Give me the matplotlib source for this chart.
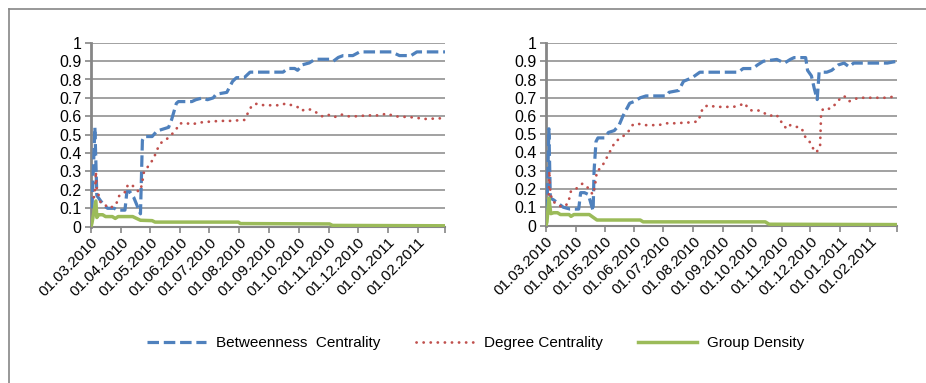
import matplotlib
matplotlib.use("Agg")
import matplotlib.pyplot as plt
from matplotlib.lines import Line2D
import pandas as pd

plt.rcParams["font.family"] = ["Liberation Sans", "DejaVu Sans"]

# day offsets from 01.03.2010 and values
# left panel
left_btw_day = [1, 4, 6, 10, 13, 17, 24, 27, 35, 37, 40, 44, 51, 53, 55, 63, 68, 74, 80, 83,
                88, 90, 104, 108, 115, 120, 126, 129, 140, 146, 150, 158, 164, 198, 203, 210,
                213, 218, 225, 231, 240, 246, 250, 255, 260, 270, 277, 302, 310, 314, 318,
                330, 336, 365]
left_btw = [0.10, 0.54, 0.17, 0.14, 0.12, 0.10, 0.10, 0.09, 0.09, 0.19, 0.19, 0.16, 0.07, 0.47,
            0.49, 0.49, 0.52, 0.53, 0.54, 0.58, 0.67, 0.68, 0.68, 0.69, 0.70, 0.69, 0.70, 0.72,
            0.73, 0.79, 0.81, 0.81, 0.84, 0.84, 0.86, 0.86, 0.85, 0.88, 0.89, 0.91, 0.91, 0.91,
            0.90, 0.92, 0.93, 0.93, 0.95, 0.95, 0.95, 0.94, 0.93, 0.93, 0.95, 0.95]

left_deg_day = [3, 4.5, 5, 6, 8, 10, 14, 19, 26, 28, 31, 36, 38, 44, 49, 51, 53, 54, 57, 60,
                65, 67, 73, 79, 83, 88, 91, 97, 104, 110, 120, 133, 143, 158, 162, 166, 172,
                178, 195, 201, 207, 213, 217, 222, 228, 234, 238, 244, 250, 254, 258, 264,
                275, 284, 296, 306, 312, 330, 338, 342, 365]
left_deg = [0.16, 0.22, 0.30, 0.20, 0.17, 0.13, 0.12, 0.10, 0.12, 0.16, 0.18, 0.19, 0.23, 0.22,
            0.19, 0.20, 0.24, 0.29, 0.31, 0.34, 0.37, 0.41, 0.46, 0.48, 0.50, 0.53, 0.56, 0.565,
            0.555, 0.565, 0.57, 0.575, 0.575, 0.58, 0.62, 0.66, 0.67, 0.66, 0.66, 0.67, 0.66,
            0.65, 0.63, 0.64, 0.635, 0.615, 0.60, 0.61, 0.595, 0.60, 0.61, 0.60, 0.60, 0.605,
            0.605, 0.615, 0.60, 0.595, 0.59, 0.585, 0.59]

left_den_day = [0, 1, 5, 6, 8, 12, 15, 22, 25, 28, 43, 47, 51, 63, 66, 152, 154, 246, 249, 365]
left_den = [0.0, 0.02, 0.14, 0.05, 0.065, 0.065, 0.055, 0.055, 0.045, 0.055, 0.055, 0.045,
            0.035, 0.033, 0.025, 0.025, 0.017, 0.015, 0.007, 0.005]

# right panel
right_btw_day = [1, 3, 4.5, 8, 13, 18, 25, 34, 36, 40, 44, 49, 50, 52, 54, 61, 65, 71, 76, 80,
                 87, 92, 98, 104, 125, 128, 138, 143, 152, 160, 200, 205, 215, 220, 226, 240,
                 248, 254, 258, 270, 272, 276, 279, 282, 284, 292, 297, 304, 310, 315, 320,
                 355, 365]
right_btw = [0.08, 0.53, 0.15, 0.14, 0.12, 0.10, 0.09, 0.09, 0.18, 0.18, 0.17, 0.08, 0.30, 0.46,
             0.48, 0.48, 0.51, 0.52, 0.55, 0.60, 0.67, 0.68, 0.70, 0.71, 0.71, 0.73, 0.74, 0.79,
             0.81, 0.84, 0.84, 0.86, 0.86, 0.88, 0.90, 0.91, 0.89, 0.91, 0.92, 0.92, 0.85, 0.82,
             0.75, 0.69, 0.84, 0.84, 0.85, 0.88, 0.89, 0.87, 0.89, 0.89, 0.90]

right_deg_day = [3, 3.5, 4, 6, 10, 17, 23, 26, 31, 38, 43, 47, 49, 51, 53, 56, 60, 64, 68, 72,
                 78, 85, 90, 95, 100, 117, 125, 133, 150, 158, 161, 163, 169, 176, 195, 202,
                 207, 210, 214, 222, 229, 233, 238, 243, 246, 251, 254, 260, 264, 267, 270,
                 274, 278, 281, 285, 286, 288, 296, 300, 305, 310, 315, 320, 325, 335, 355, 365]
right_deg = [0.17, 0.30, 0.21, 0.14, 0.12, 0.10, 0.12, 0.19, 0.20, 0.23, 0.21, 0.18, 0.17, 0.22,
             0.30, 0.31, 0.34, 0.38, 0.42, 0.46, 0.48, 0.51, 0.55, 0.56, 0.55, 0.55, 0.56, 0.56,
             0.565, 0.57, 0.61, 0.645, 0.66, 0.65, 0.65, 0.66, 0.67, 0.64, 0.63, 0.63, 0.61,
             0.60, 0.61, 0.59, 0.55, 0.53, 0.55, 0.54, 0.54, 0.52, 0.48, 0.46, 0.42, 0.40, 0.43,
             0.60, 0.64, 0.64, 0.66, 0.69, 0.71, 0.68, 0.69, 0.70, 0.70, 0.70, 0.71]

right_den_day = [0, 1, 3, 5, 8, 12, 15, 24, 26, 29, 45, 49, 53, 98, 101, 228, 232, 365]
right_den = [0.0, 0.02, 0.15, 0.065, 0.07, 0.07, 0.06, 0.06, 0.05, 0.06, 0.06, 0.045, 0.03,
             0.03, 0.02, 0.02, 0.007, 0.005]

series_names = ["Betweenness  Centrality", "Degree Centrality", "Group Density"]

start = pd.Timestamp("2010-03-01")
months = pd.date_range("2010-03-01", "2011-03-01", freq="MS")
tick_pos = [(m - start).days for m in months]
tick_labels = [m.strftime("%d.%m.%Y") for m in months[:-1]] + [""]

BLUE = "#4F81BD"
RED = "#C0504D"
GREEN = "#9BBB59"
GREY = "#868686"

fig = plt.figure(figsize=(9.26, 3.83), dpi=100)

# chart area border (left and top edges visible)
fig.add_artist(Line2D([9 / 926, 9 / 926], [0, 1 - 9 / 383], transform=fig.transFigure,
                      color=GREY, lw=1.2))
fig.add_artist(Line2D([9 / 926, 1], [1 - 9 / 383, 1 - 9 / 383], transform=fig.transFigure,
                      color=GREY, lw=1.2))

ax1 = fig.add_axes([91 / 926, 1 - 226.7 / 383, 354 / 926, 184 / 383])
ax2 = fig.add_axes([546 / 926, 1 - 225.5 / 383, 351 / 926, 182.5 / 383])

panels = [
    (ax1, left_btw_day, left_btw, left_deg_day, left_deg, left_den_day, left_den),
    (ax2, right_btw_day, right_btw, right_deg_day, right_deg, right_den_day, right_den),
]

handles = []
for ax, bd, bv, dd, dv, gd, gv in panels:
    hb, = ax.plot(bd, bv, color=BLUE, lw=2.3, linestyle=(0, (3.6, 1.5)), zorder=3)
    hd, = ax.plot(dd, dv, color=RED, lw=2.0, linestyle=(0, (0.05, 2.5)),
                  dash_capstyle="round", zorder=3)
    hg, = ax.plot(gd, gv, color=GREEN, lw=2.5, zorder=3)
    handles = [hb, hd, hg]

    ax.set_xlim(0, 365)
    ax.set_ylim(0, 1)
    ax.set_yticks([i / 10 for i in range(11)])
    ax.set_yticklabels(["0", "0.1", "0.2", "0.3", "0.4", "0.5", "0.6", "0.7", "0.8", "0.9", "1"])
    ax.set_xticks(tick_pos)
    ax.set_xticklabels(tick_labels, rotation=45, ha="right", rotation_mode="anchor")
    ax.grid(axis="y", color="#9a9a9a", lw=1.3)
    ax.set_axisbelow(True)
    for s in ["top", "right"]:
        ax.spines[s].set_visible(False)
    ax.spines["left"].set_color(GREY)
    ax.spines["left"].set_linewidth(2.0)
    ax.spines["bottom"].set_color(GREY)
    ax.spines["bottom"].set_linewidth(1.5)
    ax.tick_params(axis="y", labelsize=11.5, color=GREY, length=4, width=1.2, pad=3)
    ax.tick_params(axis="x", labelsize=11, color=GREY, length=4, width=1.2, pad=2)

fig.legend(handles, series_names, loc="center", bbox_to_anchor=(0.514, 0.104), ncol=3,
           frameon=False, fontsize=11, handlelength=3.8, handletextpad=0.7, columnspacing=2.3)

fig.savefig("out.png", dpi=100)
